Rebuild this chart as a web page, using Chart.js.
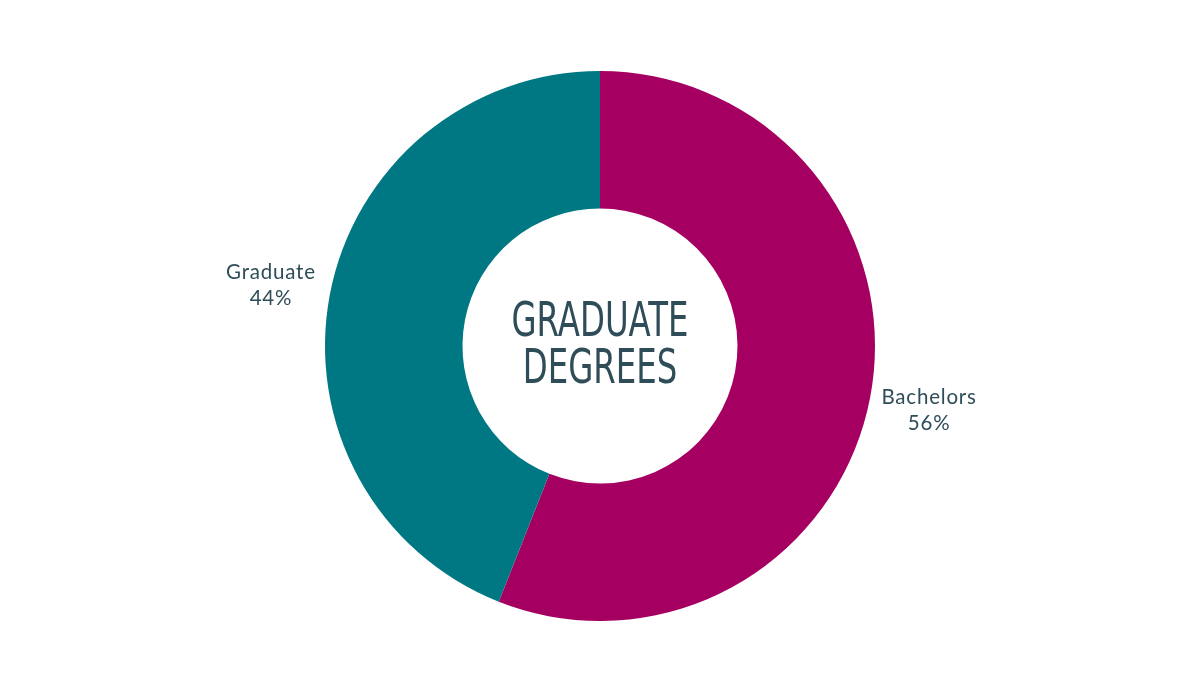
<!DOCTYPE html>
<html>
<head>
<meta charset="utf-8">
<script src="https://cdn.jsdelivr.net/npm/chart.js@4/dist/chart.umd.min.js"></script>
<style>
  html, body { margin: 0; padding: 0; background: #ffffff; }
  #wrap { width: 1200px; height: 675px; position: relative; }
</style>
</head>
<body>
<div id="wrap"><canvas id="c" width="1200" height="675"></canvas></div>
<script>
const categories = ["Bachelors", "Graduate"];
const shares = [56, 44];
const sliceColors = ["#a50061", "#007883"];
const centerLines = ["GRADUATE", "DEGREES"];
const textColor = "#2f4d58";

const labelPlugin = {
  id: "sliceLabels",
  afterDraw(chart) {
    const ctx = chart.ctx;
    const meta = chart.getDatasetMeta(0);
    ctx.save();
    ctx.fillStyle = textColor;
    ctx.textAlign = "center";
    ctx.textBaseline = "middle";
    ctx.font = "20.5px Lato, 'Open Sans', sans-serif";
    if ("letterSpacing" in ctx) ctx.letterSpacing = "0.8px";
    meta.data.forEach((arc, i) => {
      const p = arc.getProps(["x", "y", "startAngle", "endAngle", "outerRadius"], true);
      const mid = (p.startAngle + p.endAngle) / 2;
      const r = p.outerRadius + 60;
      const lx = p.x + Math.cos(mid) * r;
      const ly = p.y + Math.sin(mid) * r;
      ctx.fillText(categories[i], lx, ly - 11);
      ctx.fillText(shares[i] + "%", lx, ly + 15);
    });
    ctx.restore();
    // center text (condensed look)
    const a = meta.data[0];
    ctx.save();
    ctx.fillStyle = textColor;
    ctx.textAlign = "center";
    ctx.textBaseline = "middle";
    ctx.font = "48px 'DejaVu Sans', sans-serif";
    ctx.translate(a.x, a.y);
    ctx.scale(0.675, 1);
    ctx.fillText(centerLines[0], 0, -22);
    ctx.fillText(centerLines[1], 0, 24.5);
    ctx.restore();
  }
};

new Chart(document.getElementById("c"), {
  type: "doughnut",
  data: {
    labels: categories,
    datasets: [{
      data: shares,
      backgroundColor: sliceColors,
      borderWidth: 0,
      hoverOffset: 0
    }]
  },
  options: {
    responsive: false,
    animation: false,
    cutout: "50%",
    layout: { padding: { top: 71, bottom: 54, left: 0, right: 0 } },
    plugins: {
      legend: { display: false },
      tooltip: { enabled: false }
    }
  },
  plugins: [labelPlugin]
});
</script>
</body>
</html>
